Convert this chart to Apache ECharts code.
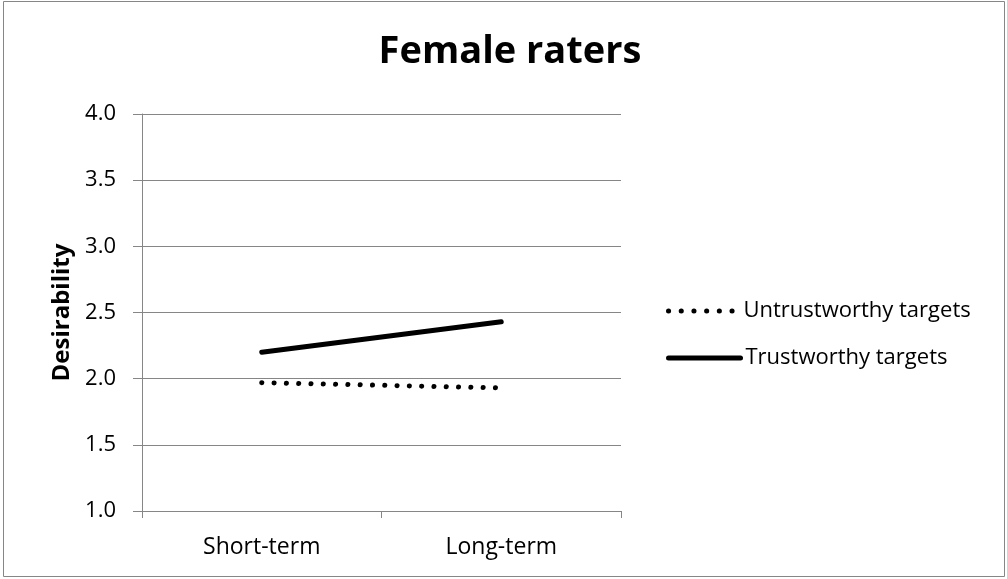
<!DOCTYPE html>
<html>
<head>
<meta charset="utf-8">
<script src="https://cdn.jsdelivr.net/npm/echarts@6/dist/echarts.min.js"></script>
<style>
html,body{margin:0;padding:0;background:#fff;}
#c{width:1007px;height:579px;}
</style>
</head>
<body>
<div id="c"></div>
<script>
var categories = ['Short-term', 'Long-term'];
var untrustworthy = [1.97, 1.93];
var trustworthy = [2.20, 2.43];
var yTicks = { min: 1.0, max: 4.0, interval: 0.5 };

var FONT = '"Open Sans", "Liberation Sans", sans-serif';
var dotted = [0.1, 12.6];
var chart = echarts.init(document.getElementById('c'), null, { renderer: 'canvas' });
chart.setOption({
  backgroundColor: '#ffffff',
  animation: false,
  title: {
    text: 'Female raters',
    left: 505, top: 28, textAlign: 'center',
    textStyle: { fontFamily: FONT, fontWeight: 'bold', fontSize: 38, color: '#000' }
  },
  legend: [{
    data: ['Untrustworthy targets'],
    left: 661, top: 295, itemWidth: 70, itemHeight: 14, itemGap: 4,
    itemStyle: { opacity: 0 },
    lineStyle: { width: 5, type: dotted, cap: 'round', color: '#000' },
    textStyle: { fontFamily: FONT, fontSize: 22, color: '#000' }
  }, {
    data: ['Trustworthy targets'],
    left: 661, top: 342, itemWidth: 72, itemHeight: 14,
    itemStyle: { opacity: 0 },
    lineStyle: { width: 5, type: 'solid', cap: 'round', color: '#000' },
    textStyle: { fontFamily: FONT, fontSize: 22, color: '#000' }
  }],
  grid: { left: 142, top: 114, right: 386, bottom: 68, containLabel: false },
  xAxis: {
    type: 'category',
    data: categories,
    boundaryGap: true,
    axisLine: { lineStyle: { color: '#868686', width: 1 } },
    axisTick: { show: true, length: 7, lineStyle: { color: '#868686' } },
    axisLabel: { fontFamily: FONT, fontSize: 23, color: '#000', margin: 25 }
  },
  yAxis: {
    type: 'value',
    min: yTicks.min, max: yTicks.max, interval: yTicks.interval,
    name: 'Desirability',
    nameLocation: 'middle', nameRotate: 90, nameGap: 68,
    nameTextStyle: { fontFamily: FONT, fontWeight: 'bold', fontSize: 24, color: '#000' },
    axisLine: { show: true, lineStyle: { color: '#868686', width: 1 } },
    axisTick: { show: true, length: 9, lineStyle: { color: '#868686' } },
    splitLine: { show: true, lineStyle: { color: '#868686', width: 1 } },
    axisLabel: { fontFamily: FONT, fontSize: 22, color: '#000', margin: 26,
      formatter: function (v) { return v.toFixed(1); } }
  },
  series: [{
    name: 'Untrustworthy targets',
    type: 'line',
    data: untrustworthy,
    symbol: 'none',
    itemStyle: { color: '#000' },
    lineStyle: { color: '#000', width: 5, type: [0.1, 12.2], cap: 'round' }
  }, {
    name: 'Trustworthy targets',
    type: 'line',
    data: trustworthy,
    symbol: 'none',
    itemStyle: { color: '#000' },
    lineStyle: { color: '#000', width: 5, type: 'solid', cap: 'round' }
  }],
  graphic: [{
    type: 'rect',
    shape: { x: 3.5, y: 1.5, width: 1001, height: 575 },
    style: { fill: 'none', stroke: '#868686', lineWidth: 1 },
    silent: true
  }]
});
</script>
</body>
</html>
